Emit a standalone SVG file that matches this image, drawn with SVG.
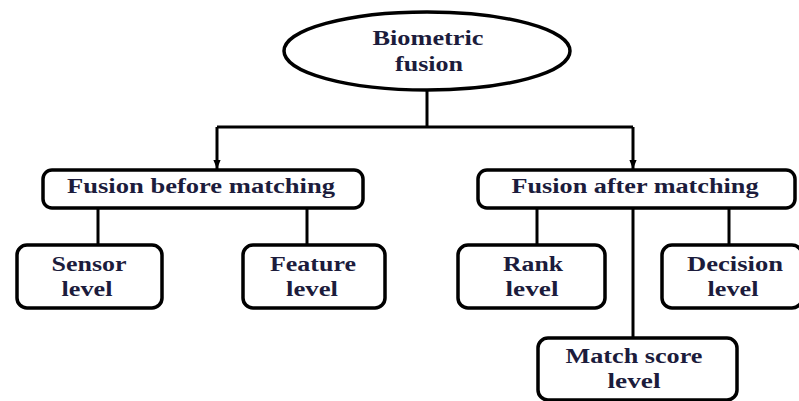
<svg xmlns="http://www.w3.org/2000/svg" width="799" height="401" viewBox="0 0 799 401">
  <defs>
    <marker id="arrow" viewBox="0 0 10 8" refX="10" refY="4" markerWidth="3" markerHeight="2.6" markerUnits="strokeWidth" orient="auto">
      <path d="M0,0 L10,4 L0,8 Z" fill="#000"/>
    </marker>
    <style>
      .node-shape { fill: #fff; stroke: #000; stroke-width: 3.5; }
      .link { fill: none; stroke: #000; stroke-width: 3; }
      text { font-family: 'Liberation Serif', 'Times New Roman', serif; font-weight: bold; font-size: 20px; fill: #1c1c3c; text-anchor: middle; }
    </style>
  </defs>
  <rect width="799" height="401" fill="#fff"/>

  <!-- connectors -->
  <g id="connectors">
    <path class="link" d="M427,90 V127"/>
    <path class="link" d="M217,127 H633"/>
    <path class="link" d="M217,127 V169" marker-end="url(#arrow)"/>
    <path class="link" d="M633,127 V169" marker-end="url(#arrow)"/>
    <path class="link" d="M98,208 V245"/>
    <path class="link" d="M307,208 V245"/>
    <path class="link" d="M537,208 V245"/>
    <path class="link" d="M729,208 V245"/>
    <path class="link" d="M633,208 V338"/>
  </g>

  <!-- root -->
  <g id="biometric-fusion">
    <ellipse class="node-shape" cx="427" cy="51" rx="143" ry="39"/>
    <text x="428" y="45" textLength="111" lengthAdjust="spacingAndGlyphs">Biometric</text>
    <text x="429" y="71" textLength="68" lengthAdjust="spacingAndGlyphs">fusion</text>
  </g>

  <!-- second level -->
  <g id="fusion-before-matching">
    <rect class="node-shape" x="43" y="170" width="320" height="38" rx="9"/>
    <text x="201" y="193" textLength="268" lengthAdjust="spacingAndGlyphs">Fusion before matching</text>
  </g>
  <g id="fusion-after-matching">
    <rect class="node-shape" x="478" y="170" width="317" height="38" rx="9"/>
    <text x="635" y="193" textLength="247" lengthAdjust="spacingAndGlyphs">Fusion after matching</text>
  </g>

  <!-- leaf levels -->
  <g id="sensor-level">
    <rect class="node-shape" x="17" y="245" width="145" height="63" rx="10"/>
    <text x="89" y="271" textLength="75" lengthAdjust="spacingAndGlyphs">Sensor</text>
    <text x="87" y="296" textLength="51" lengthAdjust="spacingAndGlyphs">level</text>
  </g>
  <g id="feature-level">
    <rect class="node-shape" x="243" y="245" width="142" height="63" rx="10"/>
    <text x="313" y="271" textLength="86" lengthAdjust="spacingAndGlyphs">Feature</text>
    <text x="312" y="296" textLength="52" lengthAdjust="spacingAndGlyphs">level</text>
  </g>
  <g id="rank-level">
    <rect class="node-shape" x="458" y="245" width="147" height="63" rx="10"/>
    <text x="533" y="271" textLength="60" lengthAdjust="spacingAndGlyphs">Rank</text>
    <text x="532" y="296" textLength="53" lengthAdjust="spacingAndGlyphs">level</text>
  </g>
  <g id="decision-level">
    <rect class="node-shape" x="662" y="245" width="140" height="63" rx="10"/>
    <text x="735" y="271" textLength="96" lengthAdjust="spacingAndGlyphs">Decision</text>
    <text x="733" y="296" textLength="51" lengthAdjust="spacingAndGlyphs">level</text>
  </g>
  <g id="match-score-level">
    <rect class="node-shape" x="538" y="338" width="199" height="62" rx="10"/>
    <text x="634" y="363" textLength="137" lengthAdjust="spacingAndGlyphs">Match score</text>
    <text x="634" y="388" textLength="53" lengthAdjust="spacingAndGlyphs">level</text>
  </g>
</svg>
